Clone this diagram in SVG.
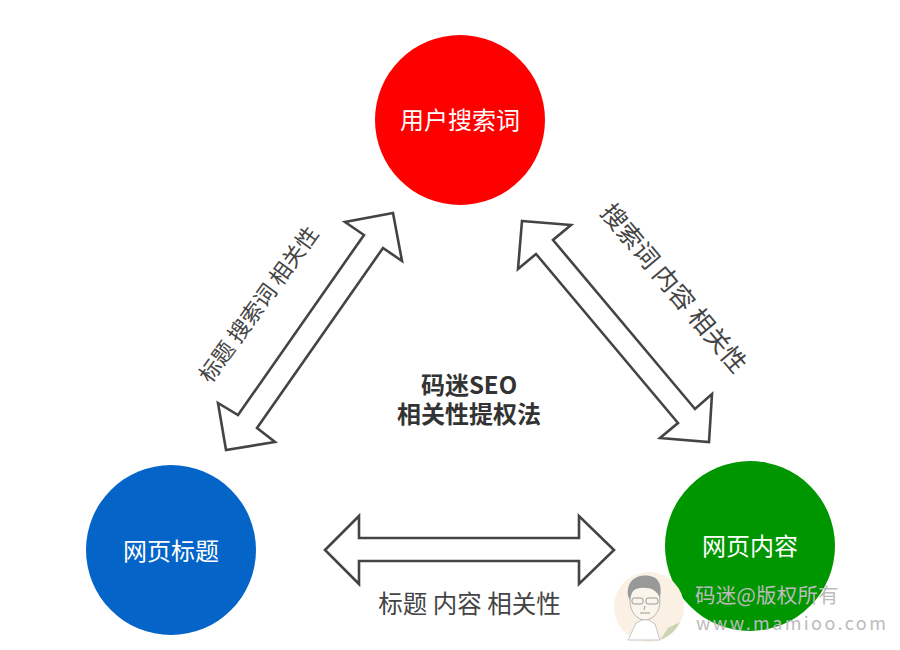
<svg xmlns="http://www.w3.org/2000/svg" width="900" height="650" viewBox="0 0 900 650">
<style>
text{font-family:"Noto Sans CJK SC","Liberation Sans",sans-serif}
.node{fill:#fff;font-size:24px;font-weight:400;text-anchor:middle}
.lbl{fill:#444;text-anchor:middle}
.title{fill:#333;font-size:24px;font-weight:700;text-anchor:middle}
.arrow{fill:#fff;stroke:#444;stroke-width:2.6;stroke-linejoin:miter}
.wm{fill:#bcbcbc;text-anchor:start}
.sk{fill:none;stroke:#999;stroke-width:1}
</style>
<rect width="900" height="650" fill="#fff"/>
<g id="connectors">
<polygon class="arrow" points="393,213 345,222 364,235 238,415 218,403 226,450 275,442 257,428 383,248 402,261"/>
<polygon class="arrow" points="522,221 571,225 553,240 695,409 712,394 709,442 660,438 678,423 536,254 518,269"/>
<polygon class="arrow" points="325,550 359,516 359,538 579,538 579,516 614,550 579,584 579,561 359,561 359,584"/>
</g>
<g id="node-query"><circle cx="460" cy="120" r="85" fill="#fe0000"/><text class="node" x="460" y="129">用户搜索词</text></g>
<g id="node-title"><circle cx="171" cy="550" r="85" fill="#0464c8"/><text class="node" x="171" y="560">网页标题</text></g>
<g id="node-content"><circle cx="750" cy="546" r="85" fill="#009600"/><text class="node" x="750" y="555">网页内容</text></g>
<g id="center-label"><text class="title" x="469" y="394">码迷SEO</text><text class="title" x="469" y="423">相关性提权法</text></g>
<g id="edge-labels">
<text class="lbl" font-size="22" transform="translate(265,309) rotate(-54)">标题 搜索词 相关性</text>
<text class="lbl" font-size="25" transform="translate(667,294) rotate(50)">搜索词 内容 相关性</text>
<text class="lbl" font-size="24.5" x="469.5" y="613">标题 内容 相关性</text>
</g>
<g id="watermark">
<circle cx="649" cy="607" r="35" fill="#faf1e4"/>
<path d="M628 640 L636 623 L646 618 L655 624 L660 640 Z" fill="#fff" stroke="#c4c4c4"/>
<path d="M660 640 L668 628 L680 622 A35 35 0 0 1 660 640 Z" fill="#cdd4b4"/>
<ellipse cx="645" cy="601" rx="15" ry="19" fill="#fbf5ec" stroke="#b4b4b4"/>
<path d="M628 596 C626 578 640 574 650 576 C660 578 662 586 660 598 C657 590 650 587 640 588 C633 589 631 592 630 600 Z" fill="#999"/>
<rect x="632" y="598" width="11" height="6" rx="2" class="sk"/><rect x="646" y="598" width="12" height="6" rx="2" class="sk"/>
<path class="sk" d="M645 606 L644 610 M640 613 L650 613"/>
<text class="wm" x="695" y="603" font-size="20.5" letter-spacing=".2">码迷@版权所有</text>
<text class="wm" x="696" y="630" font-size="18" letter-spacing="2.4">www.mamioo.com</text>
</g>
</svg>
